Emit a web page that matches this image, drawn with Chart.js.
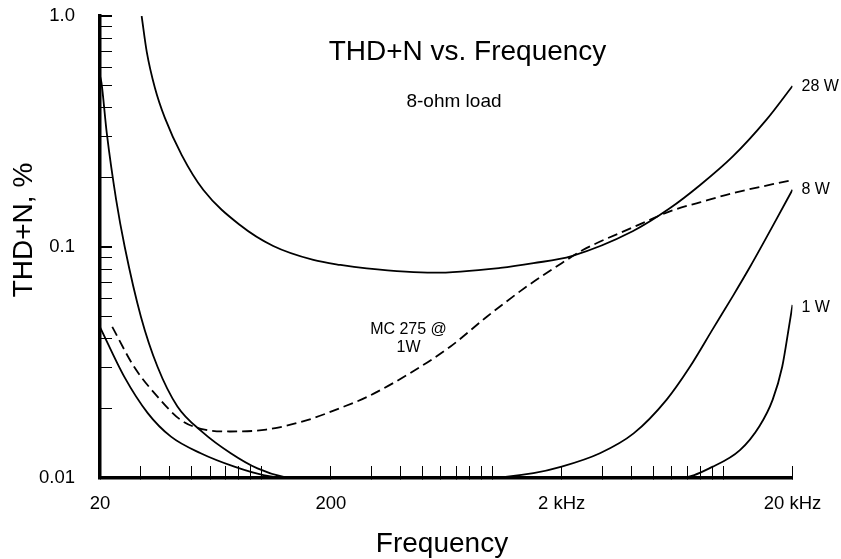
<!DOCTYPE html>
<html lang="en">
  <head>
    <meta charset="UTF-8" />
    <title>THD+N vs. Frequency</title>
    <script src="https://cdn.jsdelivr.net/npm/chart.js"></script>
    <style>
      html,
      body {
        margin: 0;
        padding: 0;
        background: #fff;
      }
      #wrap {
        width: 841px;
        height: 559px;
      }
    </style>
  </head>
  <body>
    <div id="wrap"><canvas id="myChart"></canvas></div>

    <script>
      // values (frequency in Hz, THD+N in %)
      const freq28W = [30.3, 31.9, 34.6, 38.2, 45.2, 56.1, 80.8, 112.6, 168, 220, 286, 556, 1084, 1510, 2210, 4060, 5880, 7940, 11000, 15400, 20000];
      const thd28W = [1.0, 0.698, 0.488, 0.362, 0.25, 0.1765, 0.1245, 0.101, 0.0879, 0.0836, 0.0808, 0.0774, 0.0812, 0.0851, 0.0914, 0.117, 0.147, 0.185, 0.246, 0.355, 0.498];

      const freq8W = [20, 20.3, 21.4, 23.5, 25.6, 30.1, 35.5, 43.3, 55.6, 73.7, 96.2, 125, 140, 900, 1510, 2000, 2930, 4100, 5690, 7190, 9040, 11030, 13100, 16980, 20000];
      const thd8W = [0.55, 0.513, 0.311, 0.16, 0.1, 0.0498, 0.0303, 0.0204, 0.0158, 0.0128, 0.011, 0.0101, 0.01, 0.01, 0.0105, 0.0112, 0.0128, 0.0156, 0.0218, 0.0303, 0.0442, 0.0613, 0.0821, 0.131, 0.177];

      const freq1W = [20, 25.5, 32.2, 40.6, 54.6, 76.4, 102, 134, 6500, 9040, 11840, 14400, 16400, 18050, 19300, 20000];
      const thd1W = [0.045, 0.0274, 0.0191, 0.0151, 0.0128, 0.0112, 0.0103, 0.01, 0.01, 0.0112, 0.0132, 0.0168, 0.0218, 0.0303, 0.045, 0.0562];

      const freqMC = [22.6, 28.1, 35.5, 44.9, 56.8, 73.7, 105, 158, 220, 286, 440, 660, 948, 1410, 2000, 2470, 4100, 6040, 7940, 11030, 20000];
      const thdMC = [0.0451, 0.0303, 0.0225, 0.0178, 0.0162, 0.0159, 0.0162, 0.0178, 0.0201, 0.0224, 0.0284, 0.0371, 0.0499, 0.0674, 0.0851, 0.097, 0.122, 0.144, 0.156, 0.171, 0.195];

      // axis ticks
      const xTickValues = [20, 30, 40, 50, 60, 70, 80, 90, 100, 200, 300, 400, 500, 600, 700, 800, 900, 1000, 2000, 3000, 4000, 5000, 6000, 7000, 8000, 9000, 10000, 20000];
      const xLabelValues = [20, 200, 2000, 20000];
      const xLabelTexts = ["20", "200", "2 kHz", "20 kHz"];

      const yTickValues = [0.01, 0.02, 0.03, 0.04, 0.05, 0.06, 0.07, 0.08, 0.09, 0.1, 0.2, 0.3, 0.4, 0.5, 0.6, 0.7, 0.8, 0.9, 1];
      const yLabelValues = [0.01, 0.1, 1];
      const yLabelTexts = ["0.01", "0.1", "1.0"];

      const fontFamily = "'Liberation Sans', Arial, sans-serif";

      const series = [
        { name: "28 W", freq: freq28W, thd: thd28W, dash: [], endLabel: true, dy: 1 },
        { name: "8 W", freq: freq8W, thd: thd8W, dash: [], endLabel: true, dy: 0 },
        { name: "1 W", freq: freq1W, thd: thd1W, dash: [], endLabel: true, dy: 3 },
        { name: "MC 275 @ 1W", freq: freqMC, thd: thdMC, dash: [10, 5], endLabel: false, dy: 0 },
      ];

      const datasets = series.map((s) => ({
        label: s.name,
        data: s.freq.map((f, i) => ({ x: f, y: s.thd[i] })),
        borderColor: "#000",
        borderWidth: 1.8,
        borderDash: s.dash,
        pointRadius: 0,
        cubicInterpolationMode: "monotone",
        fill: false,
      }));

      // titles and curve labels drawn on top of the plot
      const textPlugin = {
        id: "textLabels",
        afterDraw(chart) {
          const { ctx, chartArea } = chart;
          const xs = chart.scales.x;
          const ys = chart.scales.y;
          ctx.save();
          ctx.fillStyle = "#000";

          ctx.textAlign = "center";
          ctx.textBaseline = "alphabetic";
          ctx.font = "28px " + fontFamily;
          ctx.fillText("THD+N vs. Frequency", chartArea.left + 367.5, chartArea.top + 44);
          ctx.font = "19px " + fontFamily;
          ctx.fillText("8-ohm load", chartArea.left + 354, chartArea.top + 91);

          // axis titles
          ctx.font = "28px " + fontFamily;
          ctx.fillText("Frequency", chartArea.left + 342, chartArea.bottom + 74);
          ctx.save();
          ctx.translate(chartArea.left - 68, chartArea.top + 214);
          ctx.rotate(-Math.PI / 2);
          ctx.fillText("THD+N, %", 0, 0);
          ctx.restore();

          // labels at the right end of each curve
          ctx.font = "16px " + fontFamily;
          ctx.textAlign = "left";
          ctx.textBaseline = "middle";
          series.forEach((s) => {
            if (!s.endLabel) return;
            const last = s.freq.length - 1;
            const px = xs.getPixelForValue(s.freq[last]) + 9;
            const py = ys.getPixelForValue(s.thd[last]) + s.dy;
            ctx.fillText(s.name, px, py);
          });

          // MC 275 label beside the dashed curve
          ctx.textAlign = "center";
          ctx.textBaseline = "alphabetic";
          const mx = xs.getPixelForValue(434);
          const my = ys.getPixelForValue(0.042);
          ctx.fillText("MC 275 @", mx, my);
          ctx.fillText("1W", mx, my + 18);

          ctx.restore();
        },
      };

      const ctx = document.getElementById("myChart").getContext("2d");
      new Chart(ctx, {
        type: "line",
        data: { datasets: datasets },
        plugins: [textPlugin],
        options: {
          responsive: true,
          maintainAspectRatio: false,
          animation: false,
          layout: {
            padding: { left: 0, right: 48.5, top: 16, bottom: 0 },
          },
          plugins: {
            legend: { display: false },
            tooltip: { enabled: false },
          },
          scales: {
            x: {
              type: "logarithmic",
              min: 20,
              max: 20000,
              afterBuildTicks: (scale) => {
                scale.ticks = xTickValues.map((v) => ({ value: v }));
              },
              afterFit: (scale) => {
                scale.height = 81;
                scale.paddingLeft = 0;
                scale.paddingRight = 0;
              },
              border: { display: true, color: "#000", width: 3.5 },
              grid: {
                drawOnChartArea: false,
                drawTicks: true,
                tickLength: -12,
                color: "#000",
                lineWidth: 1,
              },
              ticks: {
                autoSkip: false,
                maxRotation: 0,
                padding: 27,
                color: "#000",
                font: { family: fontFamily, size: 18.5 },
                callback: (value) => {
                  const i = xLabelValues.indexOf(value);
                  return i >= 0 ? xLabelTexts[i] : "";
                },
              },
            },
            y: {
              type: "logarithmic",
              min: 0.01,
              max: 1,
              afterBuildTicks: (scale) => {
                scale.ticks = yTickValues.map((v) => ({ value: v }));
              },
              afterFit: (scale) => {
                scale.width = 100;
                scale.paddingTop = 0;
                scale.paddingBottom = 0;
              },
              border: { display: true, color: "#000", width: 3.5 },
              grid: {
                drawOnChartArea: false,
                drawTicks: true,
                tickLength: -12,
                color: "#000",
                lineWidth: (c) => (c.tick && (c.tick.value === 0.1 || c.tick.value === 1) ? 2 : 1),
              },
              ticks: {
                autoSkip: false,
                padding: 37,
                color: "#000",
                font: { family: fontFamily, size: 18.5 },
                callback: (value) => {
                  const i = yLabelValues.indexOf(value);
                  return i >= 0 ? yLabelTexts[i] : "";
                },
              },
            },
          },
        },
      });
    </script>
  </body>
</html>
